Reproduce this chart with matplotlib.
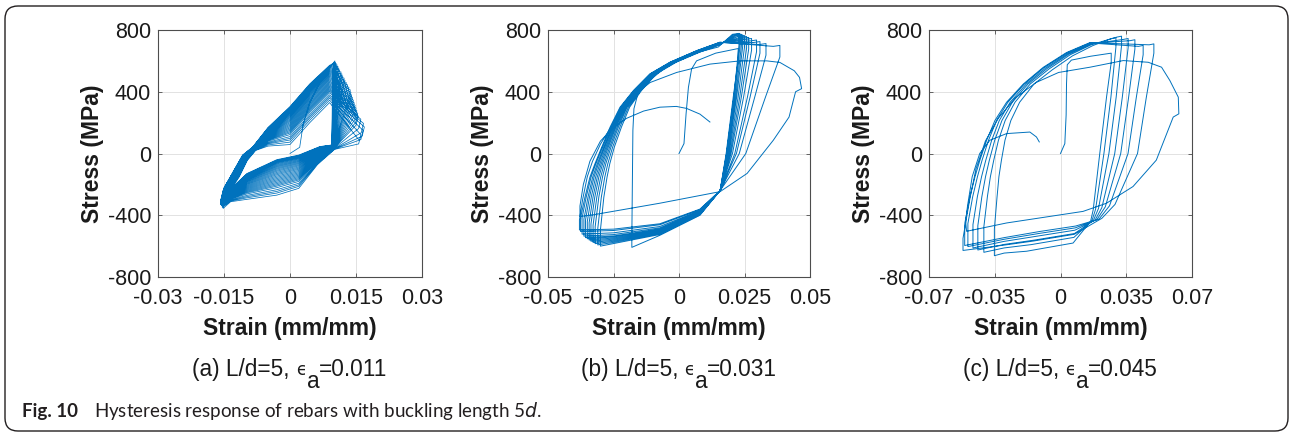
import matplotlib
matplotlib.use("Agg")
import matplotlib.pyplot as plt
from matplotlib.patches import FancyBboxPatch

BLUE = "#0072BD"
FRAME = "#4d4d4d"
INK = "#231f20"
TXT = "#1a1a1a"

plt.rcParams.update({
    "font.family": ["Liberation Sans", "DejaVu Sans"],
})

# ---------------- shared axes data ----------------
Y_TICKS = [-800, -400, 0, 400, 800]
Y_LABELS = ["-800", "-400", "0", "400", "800"]
A_XTICKS = [-0.03, -0.015, 0, 0.015, 0.03]
A_XLABELS = ["-0.03", "-0.015", "0", "0.015", "0.03"]
B_XTICKS = [-0.05, -0.025, 0, 0.025, 0.05]
B_XLABELS = ["-0.05", "-0.025", "0", "0.025", "0.05"]
C_XTICKS = [-0.07, -0.035, 0, 0.035, 0.07]
C_XLABELS = ["-0.07", "-0.035", "0", "0.035", "0.07"]
PANEL_HEADS = ["(a) L/d=5, ", "(b) L/d=5, ", "(c) L/d=5, "]
PANEL_AMPS = ["=0.011", "=0.031", "=0.045"]

# ---------------- panel (a): L/d=5, ea=0.011 ----------------
A_INIT_X = [0.0, 0.0022, 0.0030, 0.0045, 0.0075]
A_INIT_Y = [0, 40, 190, 330, 500]
A_TEN_STRAIN = [0.0102, 0.01035, 0.0105, 0.0107, 0.0109, 0.0111, 0.0113, 0.0116,
                0.0118, 0.0120, 0.0123, 0.0125, 0.0128, 0.0131, 0.0134, 0.0137,
                0.01385, 0.0140, 0.0142, 0.0144, 0.0146, 0.0148, 0.0150, 0.0152,
                0.0154, 0.0155, 0.0161, 0.0167, 0.0169, 0.0166, 0.0161, 0.0156]
A_TEN_STRESS = [600, 592, 583, 574, 564, 553, 541, 528, 515, 502, 488, 474, 459,
                444, 428, 412, 396, 379, 362, 345, 328, 311, 294, 277, 260, 243,
                222, 195, 172, 150, 122, 90]
A_COMP_STRAIN = [-0.0150, -0.0152, -0.0153, -0.0155, -0.0154, -0.0156, -0.0155,
                 -0.0157, -0.0156, -0.0155, -0.0157, -0.0158, -0.0156, -0.0155,
                 -0.0157, -0.0156, -0.0158, -0.0155, -0.0156, -0.0157, -0.0155,
                 -0.0156, -0.0158, -0.0157, -0.0155, -0.0154, -0.0156, -0.0155,
                 -0.0153, -0.0154, -0.0152]
A_COMP_STRESS = [-265, -275, -280, -285, -290, -293, -296, -300, -302, -305, -307,
                 -310, -312, -314, -316, -318, -320, -322, -324, -325, -327, -329,
                 -330, -332, -334, -336, -338, -340, -345, -350, -356]
A_STEP = (0.0006, 70)
A_RISE_EARLY = [(-0.0128, -110), (-0.0108, -10), (-0.0085, 42)]
A_RISE_LATE = [(-0.0115, -150), (-0.0097, -45), (-0.0078, 20)]
A_BAND_X = [-0.005, 0.0, 0.0045, 0.009]
A_BAND_EARLY = [170, 308, 455, 575]
A_BAND_LATE = [48, 58, 200, 330]
A_DROP = (-0.0005, -60)
A_FOOT_EARLY = (0.0095, 55)
A_FOOT_LATE = (0.0102, 25)
A_LOW_EARLY = [(0.0068, 45), (0.002, -10), (-0.003, -40), (-0.0098, -130), (-0.0135, -230)]
A_LOW_LATE = [(0.0062, -80), (0.002, -240), (-0.003, -285), (-0.0098, -308), (-0.0135, -318)]

# ---------------- panel (b): L/d=5, ea=0.031 ----------------
B_INIT_X = [0.0, 0.0019, 0.0027, 0.0036, 0.0048, 0.0067, 0.0140]
B_INIT_Y = [0, 64, 257, 429, 547, 600, 650]
B_TEN_STRAIN = [0.0226, 0.0229, 0.0233, 0.0238, 0.0243, 0.0250, 0.0258, 0.0266,
                0.0277, 0.0296, 0.0309, 0.0332, 0.0385]
B_TEN_STRESS = [680, 778, 775, 772, 768, 764, 758, 752, 745, 735, 725, 712, 700]
B_COMP_STRAIN = [-0.0180, -0.0300, -0.0310, -0.0320, -0.0328, -0.0336, -0.0343,
                 -0.0350, -0.0357, -0.0363, -0.0370, -0.0376, -0.0380]
B_COMP_STRESS = [-608, -600, -592, -584, -576, -568, -560, -552, -545, -535, -522,
                 -505, -495]
B_STEP_C = 70
B_STEP_T = 75
B_FIRST_UP = [(-0.0180, -540), (-0.0178, -200), (-0.0176, 150), (-0.0172, 290),
              (-0.0158, 380), (-0.0136, 440), (-0.0050, 560), (0.0060, 650),
              (0.0150, 690)]
B_UP_L = [(-0.0375, -412), (-0.0359, -283), (-0.0340, -153), (-0.0321, -67),
          (-0.0295, 41), (-0.0263, 171), (-0.0225, 300), (-0.0174, 408),
          (-0.0111, 516), (-0.0034, 592), (0.0068, 667), (0.0156, 721)]
B_UP_R = [(-0.0297, -500), (-0.0284, -283), (-0.0272, -153), (-0.0262, -67),
          (-0.0245, 41), (-0.0218, 171), (-0.0187, 300), (-0.0142, 408),
          (-0.0085, 516), (-0.0009, 592), (0.0080, 656), (0.0160, 706)]
B_DN_L = [(0.0207, 365), (0.0180, 0), (0.0157, -240)]
B_DN_R = [(0.0330, 365), (0.0255, 0), (0.0157, -240)]
B_LOW_HI = [(0.008, -360), (-0.0073, -455), (-0.025, -490)]
B_LOW_LO = [(0.008, -400), (-0.0073, -530), (-0.025, -590)]
B_FAIL = [(-0.0380, -430), (-0.0368, -300), (-0.0350, -150), (-0.0330, -50),
          (-0.0300, 60), (-0.0260, 170), (-0.0220, 280), (-0.0170, 380),
          (-0.0110, 460), (-0.0009, 525), (0.0118, 579), (0.0233, 600),
          (0.0335, 600), (0.0385, 590), (0.0440, 536), (0.0460, 493),
          (0.0468, 420), (0.0445, 400), (0.0420, 236), (0.0360, 86),
          (0.0260, -129), (0.0157, -247), (-0.0073, -322), (-0.0327, -397),
          (-0.0378, -408), (-0.0378, -340), (-0.0365, -200), (-0.0340, -50),
          (-0.0300, 80), (-0.0250, 170), (-0.0200, 228), (-0.0135, 275),
          (-0.0073, 300), (-0.0010, 305), (0.0029, 292), (0.0080, 255),
          (0.0118, 204)]

# ---------------- panel (c): L/d=5, ea=0.045 ----------------
C_INIT_X = [0.0, 0.0023, 0.0030, 0.0032, 0.0036, 0.0058, 0.0160]
C_INIT_Y = [0, 64, 250, 450, 575, 605, 630]
C_TEN_STRAIN = [0.0270, 0.0295, 0.0325, 0.0360, 0.0396, 0.0440, 0.0497]
C_TEN_STRESS = [650, 750, 760, 745, 737, 700, 710]
C_COMP_STRAIN = [-0.0352, -0.0408, -0.0440, -0.0466, -0.0493, -0.0510, -0.0519]
C_COMP_STRESS = [-662, -640, -625, -612, -603, -596, -628]
C_STEP_C = 70
C_STEP_T = 60
C_UP_L = [(-0.0509, -450), (-0.0482, -279), (-0.0455, -150), (-0.0429, -43),
          (-0.0393, 86), (-0.0349, 214), (-0.0287, 332), (-0.0198, 450),
          (-0.0092, 558), (0.0032, 654), (0.0156, 718)]
C_UP_R = [(-0.0335, -493), (-0.0322, -279), (-0.0314, -150), (-0.0302, -43),
          (-0.0285, 86), (-0.0255, 214), (-0.0210, 332), (-0.0135, 450),
          (-0.0039, 540), (0.0067, 630), (0.0174, 697)]
C_DN_L = [(0.0245, 365), (0.0209, 0), (0.0174, -365), (0.0160, -440)]
C_DN_R = [(0.0457, 365), (0.0410, 0), (0.0290, -330), (0.0220, -420)]
C_LOW_HI = [(0.008, -470), (-0.011, -505), (-0.030, -545)]
C_LOW_LO = [(0.0067, -580), (-0.018, -633), (-0.030, -645)]
C_FAIL = [(-0.0519, -550), (-0.0505, -450), (-0.0482, -290), (-0.0450, -100),
          (-0.0400, 80), (-0.0330, 230), (-0.0240, 360), (-0.0130, 460),
          (-0.0010, 525), (0.0157, 559), (0.0334, 602), (0.0467, 591),
          (0.0538, 559), (0.0582, 473), (0.0627, 365), (0.0630, 257),
          (0.0600, 236), (0.0510, -43), (0.0386, -214), (0.0245, -322),
          (0.0120, -375), (-0.0287, -450), (-0.0500, -504), (-0.0505, -440),
          (-0.0495, -340), (-0.0470, -150), (-0.0430, 0), (-0.0376, 86),
          (-0.0287, 129), (-0.0163, 139), (-0.0128, 107), (-0.0113, 75)]


def blend(left, right, t):
    t = min(max(t, 0.0), 1.0)
    return [(xl + t * (xr - xl), yl + t * (yr - yl))
            for (xl, yl), (xr, yr) in zip(left, right)]


def add(xs, ys, pts):
    for x, y in pts:
        xs.append(x)
        ys.append(y)


def build_a():
    xs, ys = list(A_INIT_X), list(A_INIT_Y)
    smax, smin = max(A_TEN_STRESS), min(A_TEN_STRESS)
    n = len(A_TEN_STRAIN)
    for i in range(n):
        et, st = A_TEN_STRAIN[i], A_TEN_STRESS[i]
        r = (st - smin) / (smax - smin)
        if i > 0:
            ec, sc = A_COMP_STRAIN[i - 1], A_COMP_STRESS[i - 1]
            add(xs, ys, [(ec + A_STEP[0], sc + A_STEP[1])])
            add(xs, ys, blend(A_RISE_LATE, A_RISE_EARLY, r))
            for bx, hi, lo in zip(A_BAND_X, A_BAND_EARLY, A_BAND_LATE):
                if bx < et - 0.0008:
                    add(xs, ys, [(bx, lo + r * (hi - lo))])
        add(xs, ys, [(et, st)])
        if i < n - 1:
            ec, sc = A_COMP_STRAIN[i], A_COMP_STRESS[i]
            add(xs, ys, [(et + A_DROP[0], st + A_DROP[1])])
            add(xs, ys, blend([A_FOOT_LATE], [A_FOOT_EARLY], r))
            add(xs, ys, blend(A_LOW_LATE, A_LOW_EARLY, r))
            add(xs, ys, [(ec, sc)])
    return xs, ys


def build_cyclic(init_x, init_y, ten_e, ten_s, comp_e, comp_s, step_c, step_t,
                 up_l, up_r, dn_l, dn_r, low_hi, low_lo, fail, first_up=None):
    xs, ys = list(init_x), list(init_y)
    e_lo, e_hi = min(ten_e), max(ten_e)
    c_hi, c_lo = max(comp_s), min(comp_s)
    for i in range(len(ten_e)):
        et, st = ten_e[i], ten_s[i]
        if i > 0:
            ec, sc = comp_e[i - 1], comp_s[i - 1]
            add(xs, ys, [(ec, sc + step_c)])
            if i == 1 and first_up is not None:
                pts = first_up
            else:
                t = (ec - up_l[0][0]) / (up_r[0][0] - up_l[0][0])
                pts = blend(up_l, up_r, t)
            add(xs, ys, [p for p in pts if p[1] > sc + step_c and p[0] < et - 0.003])
            add(xs, ys, [(et - 0.0025, st - 6)])
        add(xs, ys, [(et, st), (et, st - step_t)])
        ec, sc = comp_e[i], comp_s[i]
        add(xs, ys, blend(dn_l, dn_r, (et - e_lo) / (e_hi - e_lo)))
        pts = blend(low_hi, low_lo, (sc - c_hi) / (c_lo - c_hi))
        add(xs, ys, [p for p in pts if p[0] > ec + 0.002])
        add(xs, ys, [(ec, sc)])
    add(xs, ys, fail)
    return xs, ys


fig = plt.figure(figsize=(12.9, 4.33), dpi=100)
W, H = 1290, 433

# rounded frame around the whole figure
fig.add_artist(FancyBboxPatch((0.05, 0.02), 12.83, 4.25,
                              boxstyle="round,pad=0,rounding_size=0.13",
                              transform=fig.dpi_scale_trans, fill=False,
                              ec=INK, lw=1.0))

boxes = [(158, 264), (548, 262), (929, 263)]
axes = [fig.add_axes([l / W, 1 - 277 / H, w / W, 247 / H]) for l, w in boxes]

curves = [
    build_a(),
    build_cyclic(B_INIT_X, B_INIT_Y, B_TEN_STRAIN, B_TEN_STRESS, B_COMP_STRAIN,
                 B_COMP_STRESS, B_STEP_C, B_STEP_T, B_UP_L, B_UP_R,
                 B_DN_L, B_DN_R, B_LOW_HI, B_LOW_LO, B_FAIL, B_FIRST_UP),
    build_cyclic(C_INIT_X, C_INIT_Y, C_TEN_STRAIN, C_TEN_STRESS, C_COMP_STRAIN,
                 C_COMP_STRESS, C_STEP_C, C_STEP_T, C_UP_L, C_UP_R,
                 C_DN_L, C_DN_R, C_LOW_HI, C_LOW_LO, C_FAIL),
]
xticks = [(A_XTICKS, A_XLABELS), (B_XTICKS, B_XLABELS), (C_XTICKS, C_XLABELS)]
lws = [0.55, 0.7, 0.7]

renderer = fig.canvas.get_renderer()
for ax, (xs, ys), (tk, tl), lw, head, amp, (l, w) in zip(
        axes, curves, xticks, lws, PANEL_HEADS, PANEL_AMPS, boxes):
    ax.plot(xs, ys, color=BLUE, lw=lw)
    ax.set_xlim(tk[0], tk[-1])
    ax.set_ylim(-800, 800)
    ax.set_xticks(tk)
    ax.set_xticklabels(tl)
    ax.set_yticks(Y_TICKS)
    ax.set_yticklabels(Y_LABELS)
    ax.grid(True, color="#e2e2e2", lw=0.7)
    ax.set_axisbelow(True)
    ax.tick_params(direction="in", length=3, width=0.6, top=True, right=True,
                   colors=FRAME, labelcolor=TXT, labelsize=15.5)
    ax.tick_params(axis="x", pad=8)
    ax.tick_params(axis="y", pad=5)
    for s in ax.spines.values():
        s.set_color(FRAME)
        s.set_linewidth(0.8)
    ax.set_xlabel("Strain (mm/mm)", fontsize=16.5, fontweight="bold", color=TXT)
    ax.set_ylabel("Stress (MPa)", fontsize=16.5, fontweight="bold", color=TXT)
    ax.xaxis.set_label_coords(0.5, -0.2065)
    ax.xaxis.label.set_va("center")
    ax.yaxis.set_label_coords(-0.25, 0.5)
    ax.yaxis.label.set_va("center")

    # panel caption: "(x) L/d=5, " + small epsilon + lowered "a" + "=0.0xx"
    parts = [fig.text(0, 0, head, fontsize=16.3, color=TXT, va="baseline"),
             fig.text(0, 0, "\u03f5", fontsize=12, color=TXT, va="baseline",
                      family="DejaVu Sans"),
             fig.text(0, 0, "a", fontsize=16.3, color=TXT, va="baseline"),
             fig.text(0, 0, amp, fontsize=16.3, color=TXT, va="baseline")]
    widths = [p.get_window_extent(renderer).width for p in parts]
    x0 = l + w / 2 - sum(widths) / 2
    for p, wd, base in zip(parts, widths, [376, 375, 388, 376]):
        p.set_position((x0 / W, 1 - base / H))
        x0 += wd

fig.text(22 / W, 1 - 411 / H, "Fig. 10", fontsize=13.5, fontweight="bold",
         family="Lato", color=INK, va="center", ha="left")
fig.text(94 / W, 1 - 411 / H, "Hysteresis response of rebars with buckling length 5$\\it{d}$.",
         fontsize=13.5, family="Lato", color=INK, va="center", ha="left")

fig.savefig("out.png", dpi=100)
